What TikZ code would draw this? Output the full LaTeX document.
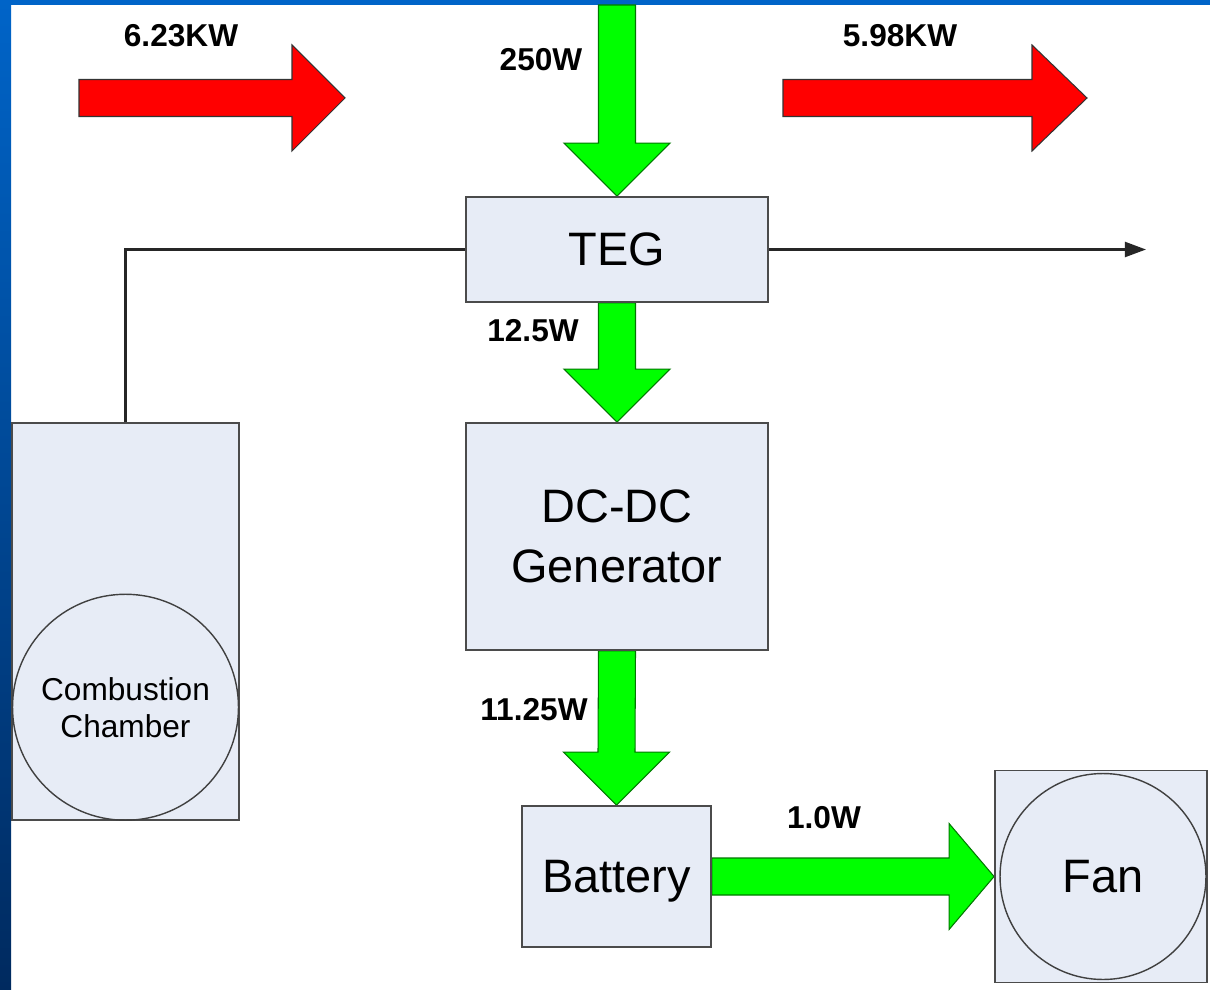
\documentclass[tikz,border=0pt]{standalone}
\usepackage{fontspec}
\setmainfont{Liberation Sans}
\usetikzlibrary{calc,arrows.meta,backgrounds}
\definecolor{slideblue}{RGB}{0,100,200}
\definecolor{slidenavy}{RGB}{0,42,95}
\definecolor{boxfill}{RGB}{231,236,246}
\definecolor{boxline}{RGB}{75,75,75}
\definecolor{powergreen}{RGB}{0,255,0}
\definecolor{powerline}{RGB}{0,120,0}
\definecolor{heatred}{RGB}{255,0,0}
\tikzset{
  unitbox/.style={draw=boxline, fill=boxfill, line width=1.1pt, inner sep=0pt,
    align=center, font=\fontsize{26.7pt}{34pt}\selectfont},
  wheel/.style={circle, draw=black!75, line width=0.8pt, inner sep=0pt, align=center},
  power/.style={fill=powergreen, draw=powerline, line width=0.6pt},
  heat/.style={fill=heatred, draw=black!80, line width=0.6pt},
  flowlabel/.style={font=\bfseries\fontsize{18pt}{20pt}\selectfont, inner sep=0pt},
  gasline/.style={draw=black!85, line width=1.4pt}
}
\newcommand\vflow[3]{%
  \draw[#1] ($#2+(-18.5,0)$) -- ($#3+(-18.5,-53)$) -- ++(-34.5,0) -- #3
    -- ++(53,-53) -- ++(-34.5,0) -- ($#2+(18.5,0)$) -- cycle;}
\newcommand\hflow[4]{%
  \draw[#1] ($#2+(0,-18.5)$) -- ($#3+(-#4,-18.5)$) -- ++(0,-34.5) -- #3
    -- ++(-#4,53) -- ++(0,-34.5) -- ($#2+(0,18.5)$) -- cycle;}
\begin{document}
\begin{tikzpicture}[x=0.02cm, y=-0.02cm]
  \useasboundingbox (0,0) rectangle (1210,990);
  \node[unitbox, minimum width=6.04cm, minimum height=2.1cm] (teg) at (617,249.5) {TEG};
  \node[unitbox, minimum width=6.04cm, minimum height=4.54cm] (dcdc) at (617,536.5) {DC-DC\\Generator};
  \node[unitbox, minimum width=3.78cm, minimum height=2.82cm, text depth=0pt] (battery) at (616.5,876.5) {Battery};
  \node[unitbox, minimum width=4.24cm, minimum height=4.24cm] (fan) at (1101,876.5) {};
  \node[wheel, minimum size=4.12cm, font=\fontsize{26.7pt}{34pt}\selectfont] (fanwheel) at (1103,876.5) {Fan};
  \node[unitbox, minimum width=4.54cm, minimum height=7.94cm] (chamber) at (125.5,621.5) {};
  \node[wheel, minimum size=4.52cm, anchor=south, font=\fontsize{18pt}{21pt}\selectfont] (burner) at (chamber.south) {Combustion\\Chamber};
  \coordinate (ambient) at (617,5);
  \coordinate (hotin) at (79,98);
  \coordinate (hotinend) at (345,98);
  \coordinate (hotout) at (783,98);
  \coordinate (hotoutend) at (1087,98);
  \coordinate (exhaust) at (1146,249.5);
  \begin{scope}[on background layer]
    \fill[white] (0,0) rectangle (1210,990);
    \shade[top color=slideblue, bottom color=slidenavy] (0,0) rectangle (11,990);
    \fill[slideblue] (0,0) rectangle (1210,5);
    \vflow{power}{(ambient)}{(teg.north)}
    \vflow{power}{(teg.south)}{(dcdc.north)}
    \vflow{power}{(dcdc.south)}{(battery.north)}
    \hflow{power}{(battery.east)}{(fan.west)}{45}
    \hflow{heat}{(hotin)}{(hotinend)}{53}
    \hflow{heat}{(hotout)}{(hotoutend)}{55}
  \end{scope}
  \draw[gasline] (chamber.north) |- (teg.west);
  \draw[gasline, -{Triangle[length=12pt, width=8.5pt]}] (teg.east) -- (exhaust);
  \node[flowlabel] (lblhotin) at (181,36) {6.23KW};
  \node[flowlabel] (lblhotout) at (900,36) {5.98KW};
  \node[flowlabel] (lblambient) at (541,60) {250W};
  \node[flowlabel] (lblteg) at (533,331) {12.5W};
  \node[flowlabel] (lbldcdc) at (534,710) {11.25W};
  \node[flowlabel] (lblfan) at (824,818) {1.0W};
\end{tikzpicture}
\end{document}
